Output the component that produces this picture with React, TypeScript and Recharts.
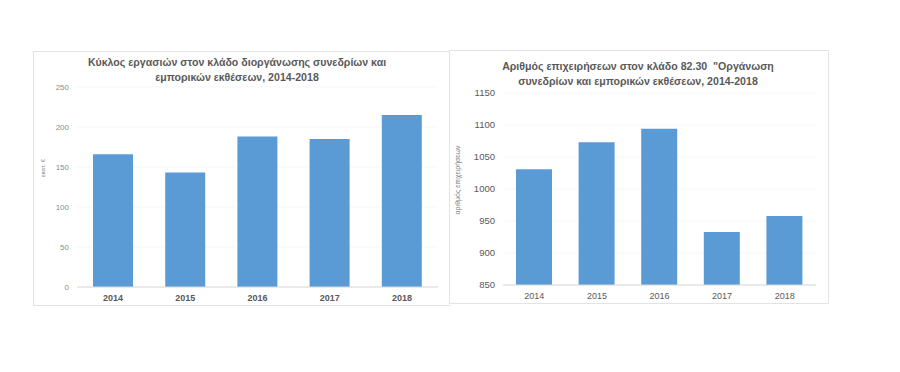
import { BarChart, Bar, XAxis, YAxis, CartesianGrid } from "recharts";

const years = ["2014", "2015", "2016", "2017", "2018"];
const turnover = [166, 143, 188, 185, 215];
const turnoverTicks = [0, 50, 100, 150, 200, 250];
const firms = [1031, 1073, 1094, 933, 958];
const firmTicks = [850, 900, 950, 1000, 1050, 1100, 1150];

const leftData = years.map((y, i) => ({ year: y, value: turnover[i] }));
const rightData = years.map((y, i) => ({ year: y, value: firms[i] }));

const BLUE = "#5B9BD5";
const FONT = "'Liberation Sans', Arial, sans-serif";

const titleStyle: React.CSSProperties = {
  position: "absolute",
  fontFamily: FONT,
  fontWeight: "bold",
  fontSize: 10.6,
  lineHeight: "15px",
  color: "#595959",
  textAlign: "center",
  whiteSpace: "nowrap",
};

const yLabelStyle: React.CSSProperties = {
  position: "absolute",
  fontFamily: FONT,
  color: "#7f7f7f",
  whiteSpace: "nowrap",
  transform: "translate(-50%, -50%) rotate(-90deg)",
};

export default function App() {
  return (
    <div style={{ position: "absolute", left: 0, top: 0, width: 900, height: 372, background: "#fff", overflow: "hidden" }}>
      {/* left panel */}
      <div style={{ position: "absolute", left: 33, top: 51, width: 416, height: 253, border: "1px solid #e3e3e3", borderRight: "none" }} />
      <div style={{ position: "absolute", left: 33, top: 51 }}>
        <BarChart width={417} height={254} data={leftData} margin={{ top: 36, right: 12, bottom: 0, left: 0 }}>
          <CartesianGrid vertical={false} stroke="#f7f7f7" />
          <XAxis
            dataKey="year"
            height={18}
            tickLine={false}
            axisLine={{ stroke: "#d9d9d9" }}
            tick={{ fontSize: 9, fontWeight: "bold", fill: "#595959", fontFamily: FONT }}
          />
          <YAxis
            width={44}
            domain={[0, 250]}
            ticks={turnoverTicks}
            axisLine={false}
            tickLine={false}
            tick={{ fontSize: 8, fill: "#8c8c8c", fontFamily: FONT }}
          />
          <Bar dataKey="value" fill={BLUE} barSize={40} isAnimationActive={false} />
        </BarChart>
      </div>
      <div style={{ ...titleStyle, left: 237, top: 55, transform: "translateX(-50%)" }}>
        Κύκλος εργασιών στον κλάδο διοργάνωσης συνεδρίων και
        <br />
        εμπορικών εκθέσεων, 2014-2018
      </div>
      <div style={{ ...yLabelStyle, left: 43, top: 168, fontSize: 6 }}>εκατ. €</div>

      {/* right panel */}
      <div style={{ position: "absolute", left: 449, top: 50, width: 378, height: 252, border: "1px solid #e3e3e3" }} />
      <div style={{ position: "absolute", left: 450, top: 50 }}>
        <BarChart width={378} height={253} data={rightData} margin={{ top: 43, right: 12, bottom: 0, left: 0 }}>
          <CartesianGrid vertical={false} stroke="#f7f7f7" />
          <XAxis
            dataKey="year"
            height={18}
            tickLine={false}
            axisLine={{ stroke: "#d9d9d9" }}
            tick={{ fontSize: 9, fill: "#595959", fontFamily: FONT }}
          />
          <YAxis
            width={53}
            domain={[850, 1150]}
            ticks={firmTicks}
            allowDataOverflow
            axisLine={false}
            tickLine={false}
            tick={{ fontSize: 9.5, fill: "#595959", fontFamily: FONT }}
          />
          <Bar dataKey="value" fill={BLUE} barSize={36} isAnimationActive={false} />
        </BarChart>
      </div>
      <div style={{ ...titleStyle, left: 638, top: 59, transform: "translateX(-50%)" }}>
        Αριθμός επιχειρήσεων στον κλάδο 82.30 &nbsp;"Οργάνωση
        <br />
        συνεδρίων και εμπορικών εκθέσεων, 2014-2018
      </div>
      <div style={{ ...yLabelStyle, left: 457, top: 180, fontSize: 7 }}>αριθμός επιχειρήσεων</div>
    </div>
  );
}
